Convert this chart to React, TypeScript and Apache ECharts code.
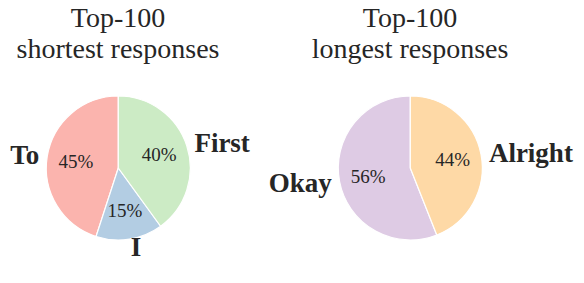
import React, { useEffect, useRef } from "react";
import * as echarts from "echarts";

const leftTitle = "Top-100\nshortest responses";
const rightTitle = "Top-100\nlongest responses";
const leftNames = ["To", "I", "First"];
const leftValues = [45, 15, 40];
const leftColors = ["#fbb4ae", "#b3cde3", "#ccebc5"];
const rightNames = ["Okay", "Alright"];
const rightValues = [56, 44];
const rightColors = ["#decbe4", "#fed9a6"];

const FONT = "Liberation Serif";
const TXT = "#262626";

function pieSeries(names: string[], values: number[], colors: string[], cx: number) {
  const data = names.map((n, i) => ({ name: n, value: values[i], itemStyle: { color: colors[i] } }));
  const clear = names.map((n, i) => ({ name: n, value: values[i] }));
  const common = {
    type: "pie",
    center: [cx, 168],
    startAngle: 90,
    clockwise: false,
    avoidLabelOverlap: false,
    silent: true,
  };
  return [
    {
      ...common,
      radius: [0, 72],
      data,
      itemStyle: { borderColor: "#ffffff", borderWidth: 1.2 },
      label: { show: false },
      labelLine: { show: false },
    },
    {
      ...common,
      radius: [0, 80],
      data: clear,
      itemStyle: { color: "rgba(0,0,0,0)", borderWidth: 0 },
      label: {
        show: true,
        position: "inside",
        formatter: (p: any) => Math.round(p.percent) + "%",
        fontFamily: FONT,
        fontSize: 19,
        color: TXT,
      },
      labelLine: { show: false },
    },
    {
      ...common,
      radius: [0, 80],
      data: clear,
      itemStyle: { color: "rgba(0,0,0,0)", borderWidth: 0 },
      label: {
        show: true,
        position: "outside",
        formatter: "{b}",
        fontFamily: FONT,
        fontSize: 27,
        fontWeight: "bold",
        color: TXT,
        distanceToLabelLine: 0,
      },
      labelLine: { show: false, length: 0, length2: 0 },
    },
  ];
}

export default function App() {
  const ref = useRef<HTMLDivElement>(null);
  useEffect(() => {
    if (!ref.current) return;
    const chart = echarts.init(ref.current, undefined, { renderer: "svg" });
    chart.setOption({
      animation: false,
      backgroundColor: "#ffffff",
      title: [
        {
          text: leftTitle,
          left: 118,
          top: 2,
          textAlign: "center",
          padding: 0,
          textStyle: { fontFamily: FONT, fontSize: 28, fontWeight: "normal", color: TXT, lineHeight: 31 },
        },
        {
          text: rightTitle,
          left: 410,
          top: 2,
          textAlign: "center",
          padding: 0,
          textStyle: { fontFamily: FONT, fontSize: 28, fontWeight: "normal", color: TXT, lineHeight: 31 },
        },
      ],
      series: [
        ...pieSeries(leftNames, leftValues, leftColors, 118.3),
        ...pieSeries(rightNames, rightValues, rightColors, 410.3),
      ],
    });
    return () => chart.dispose();
  }, []);
  return (
    <div
      ref={ref}
      style={{ position: "fixed", left: 0, top: 0, width: 584, height: 283 }}
    />
  );
}
